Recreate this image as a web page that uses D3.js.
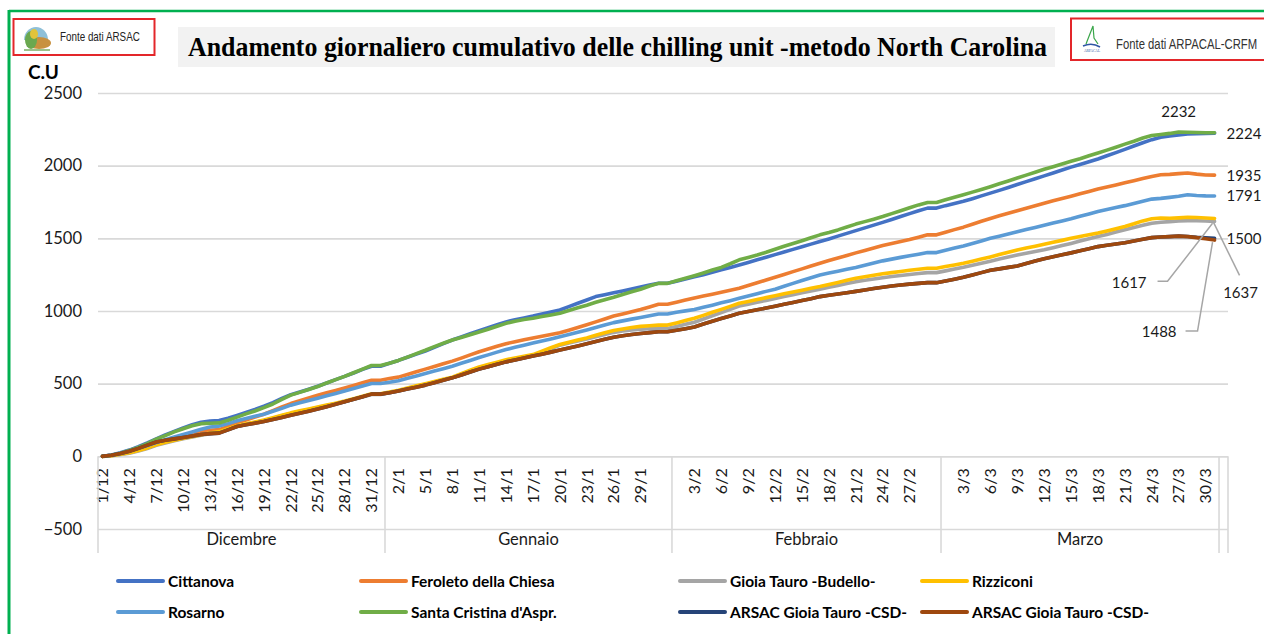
<!DOCTYPE html>
<html>
<head>
<meta charset="utf-8">
<script src="https://cdn.jsdelivr.net/npm/d3@7"></script>
<style>
  body { margin: 0; background: #fff; }
  svg { display: block; font-family: Lato, "Open Sans", sans-serif; }
</style>
</head>
<body>
<div id="chart"></div>
<script>
const width = 1264;
const height = 634;
const margin = { left: 98, right: 36, top: 93, bottom: 105 };

const months = ['Dicembre', 'Gennaio', 'Febbraio', 'Marzo'];
const monthNumbers = [12, 1, 2, 3];
const monthDays = [31, 31, 29, 31];
const yTicks = [-500, 0, 500, 1000, 1500, 2000, 2500];

const seriesNames = ['Cittanova', 'Feroleto della Chiesa', 'Gioia Tauro -Budello-', 'Rizziconi',
  'Rosarno', "Santa Cristina d'Aspr.", 'ARSAC Gioia Tauro -CSD-', 'ARSAC Gioia Tauro -CSD-'];
const colors = ['#4472c4', '#ed7d31', '#a5a5a5', '#ffc000', '#5b9bd5', '#70ad47', '#264478', '#9e480e'];

// valori giornalieri: dic (31) + vuoto, gen (31) + vuoto, feb (29) + vuoto, mar (31)
const cittanova = [
  0, 9, 24, 43, 66, 92, 120, 148, 172, 196, 218, 235, 243, 246, 262, 282, 302, 322, 345, 370, 398, 424, 443, 462, 482, 505, 528, 550, 573, 598, 620, 620,
  640, 660, 682, 703, 725, 750, 775, 800, 822, 843, 865, 885, 905, 925, 940, 952, 965, 980, 993, 1007, 1030, 1053, 1076, 1099, 1112, 1125, 1138, 1152, 1165, 1178, 1191, 1191,
  1205, 1220, 1235, 1250, 1266, 1283, 1300, 1317, 1334, 1352, 1370, 1388, 1406, 1424, 1442, 1460, 1478, 1496, 1515, 1534, 1553, 1572, 1591, 1610, 1630, 1650, 1670, 1690, 1708, 1708,
  1725, 1740, 1755, 1773, 1792, 1811, 1830, 1850, 1870, 1890, 1910, 1930, 1950, 1970, 1990, 2008, 2027, 2046, 2068, 2090, 2112, 2135, 2158, 2179, 2195, 2205, 2212, 2218, 2220, 2222, 2224
];
const feroleto = [
  0, 6, 18, 35, 52, 70, 90, 108, 125, 140, 155, 170, 179, 184, 205, 230, 250, 270, 290, 315, 340, 363, 383, 402, 420, 437, 453, 470, 488, 506, 524, 524,
  535, 545, 563, 582, 600, 618, 637, 655, 676, 698, 720, 738, 757, 775, 789, 802, 815, 827, 838, 850, 868, 886, 905, 925, 945, 965, 980, 995, 1010, 1028, 1046, 1046,
  1060, 1075, 1090, 1103, 1116, 1129, 1142, 1156, 1175, 1194, 1213, 1232, 1251, 1271, 1290, 1310, 1329, 1347, 1364, 1382, 1400, 1417, 1434, 1450, 1464, 1478, 1492, 1508, 1524, 1524,
  1542, 1560, 1577, 1597, 1617, 1637, 1655, 1672, 1690, 1707, 1724, 1741, 1758, 1774, 1790, 1806, 1822, 1839, 1853, 1867, 1882, 1897, 1912, 1926, 1937, 1940, 1945, 1950, 1942, 1936, 1935
];
const budello = [
  0, 4, 12, 22, 36, 54, 76, 92, 107, 121, 133, 145, 156, 166, 186, 206, 220, 233, 246, 262, 279, 295, 309, 322, 336, 349, 362, 376, 392, 409, 426, 426,
  437, 450, 465, 480, 495, 510, 525, 540, 560, 580, 600, 617, 634, 651, 665, 678, 692, 715, 740, 765, 779, 793, 807, 823, 838, 853, 862, 869, 874, 878, 880, 880,
  893, 908, 923, 945, 967, 989, 1011, 1034, 1047, 1060, 1073, 1086, 1099, 1112, 1125, 1138, 1150, 1163, 1176, 1189, 1202, 1211, 1220, 1229, 1237, 1244, 1251, 1258, 1264, 1264,
  1276, 1289, 1301, 1315, 1329, 1343, 1357, 1371, 1385, 1397, 1409, 1421, 1435, 1450, 1465, 1481, 1497, 1512, 1527, 1543, 1559, 1575, 1590, 1604, 1611, 1615, 1620, 1622, 1621, 1619, 1617
];
const rizziconi = [
  0, 5, 14, 25, 40, 58, 80, 96, 111, 125, 137, 149, 160, 170, 190, 210, 224, 237, 250, 266, 283, 299, 313, 326, 340, 353, 366, 380, 396, 413, 430, 430,
  442, 455, 470, 485, 500, 515, 530, 545, 568, 592, 615, 632, 648, 665, 677, 688, 700, 723, 747, 770, 785, 800, 815, 833, 850, 866, 876, 886, 894, 899, 903, 903,
  918, 934, 950, 970, 991, 1011, 1032, 1053, 1066, 1079, 1092, 1105, 1118, 1130, 1143, 1156, 1168, 1182, 1196, 1211, 1225, 1236, 1246, 1256, 1264, 1272, 1280, 1287, 1294, 1294,
  1306, 1317, 1329, 1343, 1357, 1372, 1388, 1404, 1420, 1433, 1446, 1460, 1473, 1486, 1500, 1512, 1524, 1536, 1551, 1566, 1582, 1600, 1620, 1635, 1640, 1638, 1641, 1645, 1643, 1640, 1637
];
const rosarno = [
  0, 8, 22, 38, 56, 75, 95, 115, 133, 150, 168, 186, 202, 208, 225, 245, 260, 275, 290, 310, 330, 352, 368, 384, 400, 417, 433, 450, 467, 484, 501, 501,
  510, 520, 537, 553, 570, 587, 603, 620, 640, 660, 680, 698, 717, 735, 750, 765, 780, 794, 808, 823, 839, 854, 870, 887, 903, 920, 932, 944, 955, 967, 979, 979,
  992, 1001, 1010, 1025, 1040, 1056, 1071, 1087, 1103, 1119, 1135, 1150, 1170, 1190, 1210, 1229, 1248, 1261, 1274, 1287, 1300, 1315, 1330, 1345, 1357, 1369, 1380, 1391, 1402, 1402,
  1418, 1433, 1448, 1465, 1482, 1500, 1515, 1530, 1545, 1560, 1575, 1590, 1605, 1620, 1635, 1652, 1668, 1685, 1698, 1712, 1725, 1740, 1755, 1770, 1775, 1782, 1790, 1800, 1795, 1792, 1791
];
const santaCristina = [
  0, 8, 22, 40, 62, 88, 118, 143, 168, 190, 210, 225, 228, 230, 248, 270, 292, 312, 335, 360, 392, 421, 440, 460, 480, 505, 528, 550, 575, 600, 625, 625,
  640, 660, 683, 707, 730, 755, 778, 800, 818, 836, 855, 875, 895, 915, 930, 941, 950, 962, 973, 985, 1003, 1022, 1040, 1060, 1078, 1095, 1114, 1132, 1150, 1172, 1190, 1190,
  1208, 1225, 1243, 1262, 1282, 1300, 1325, 1352, 1368, 1385, 1404, 1425, 1446, 1465, 1484, 1504, 1524, 1540, 1558, 1578, 1598, 1615, 1632, 1650, 1670, 1690, 1710, 1730, 1747, 1747,
  1765, 1783, 1800, 1818, 1836, 1855, 1875, 1895, 1915, 1935, 1955, 1975, 1993, 2012, 2030, 2048, 2068, 2087, 2107, 2127, 2148, 2168, 2190, 2207, 2215, 2222, 2232, 2230, 2228, 2227, 2226
];
const arsacBlu = [
  0, 8, 20, 35, 55, 77, 99, 110, 120, 130, 140, 150, 156, 160, 182, 205, 217, 228, 240, 254, 268, 283, 297, 311, 325, 341, 358, 375, 393, 410, 428, 428,
  438, 450, 463, 476, 490, 506, 523, 540, 560, 580, 600, 617, 633, 650, 663, 676, 690, 703, 717, 731, 745, 760, 775, 790, 805, 820, 830, 838, 845, 851, 857, 857,
  867, 878, 890, 910, 930, 948, 966, 984, 996, 1008, 1020, 1033, 1046, 1059, 1072, 1085, 1099, 1108, 1117, 1126, 1135, 1145, 1155, 1164, 1172, 1179, 1185, 1190, 1195, 1195,
  1207, 1219, 1232, 1248, 1264, 1280, 1290, 1300, 1310, 1327, 1344, 1360, 1373, 1387, 1400, 1414, 1428, 1443, 1452, 1461, 1470, 1482, 1494, 1505, 1509, 1512, 1515, 1513, 1507, 1503, 1500
];
const arsacMarrone = [
  0, 8, 20, 35, 55, 77, 99, 110, 120, 130, 140, 150, 156, 160, 182, 205, 217, 228, 240, 254, 268, 283, 297, 311, 325, 341, 358, 375, 393, 410, 428, 428,
  438, 450, 463, 476, 490, 506, 523, 540, 560, 580, 600, 617, 633, 650, 663, 676, 690, 703, 717, 731, 745, 760, 775, 790, 805, 820, 830, 838, 845, 851, 857, 857,
  867, 878, 890, 910, 930, 948, 966, 984, 996, 1008, 1020, 1033, 1046, 1059, 1072, 1085, 1099, 1108, 1117, 1126, 1135, 1145, 1155, 1164, 1172, 1179, 1185, 1190, 1195, 1195,
  1207, 1219, 1232, 1248, 1264, 1280, 1290, 1300, 1310, 1327, 1344, 1360, 1373, 1387, 1400, 1414, 1428, 1443, 1452, 1461, 1470, 1482, 1494, 1505, 1509, 1512, 1515, 1512, 1505, 1497, 1488
];
const allSeries = [cittanova, feroleto, budello, rizziconi, rosarno, santaCristina, arsacBlu, arsacMarrone];

// categorie: giorni del mese, una riga vuota a fine mese, e una vuota in coda
const categories = [];
const groups = [];
monthDays.forEach((n, m) => {
  const start = categories.length;
  for (let d = 1; d <= n; d++) categories.push(`${d}/${monthNumbers[m]}`);
  if (m < monthDays.length - 1) categories.push('');
  groups.push({ name: months[m], start: start, end: categories.length });
});
groups.push({ name: '', start: categories.length, end: categories.length + 1 });
categories.push('');

const svg = d3.select('#chart')
  .append('svg')
    .attr('width', width)
    .attr('height', height);

// cornice verde
svg.append('line').attr('x1', 9).attr('x2', width).attr('y1', 11).attr('y2', 11)
  .style('stroke', '#00b050').style('stroke-width', 2.5);
svg.append('line').attr('x1', 9).attr('x2', 9).attr('y1', 10).attr('y2', height)
  .style('stroke', '#00b050').style('stroke-width', 3);

const x = d3.scaleBand()
  .domain(d3.range(categories.length))
  .range([margin.left, width - margin.right]);
const y = d3.scaleLinear()
  .domain([-500, 2500])
  .range([529, margin.top]);
const cx = i => x(i) + x.bandwidth() / 2;

// griglia e asse y
svg.append('g')
  .attr('transform', `translate(${margin.left},0)`)
  .call(d3.axisLeft(y).tickValues(yTicks).tickSize(-(width - margin.right - margin.left)).tickPadding(16).tickFormat(d3.format('d')))
  .call(g => g.select('.domain').remove())
  .call(g => g.selectAll('.tick line').style('stroke', '#d9d9d9').style('stroke-width', 1.6))
  .call(g => g.selectAll('.tick text').style('font-size', '16.5px').style('fill', '#1a1a1a').style('font-family', 'Lato'));

// asse x (etichette giorni ogni 3 categorie)
svg.append('g')
  .attr('transform', `translate(0,${y(0)})`)
  .call(d3.axisBottom(x).tickValues(d3.range(0, categories.length, 3)).tickSize(0).tickFormat(i => categories[i]))
  .call(g => g.select('.domain').remove())
  .call(g => g.selectAll('.tick text')
    .attr('transform', 'rotate(-90)')
    .attr('x', -12)
    .attr('y', 0)
    .attr('dy', '0.36em')
    .style('text-anchor', 'end')
    .style('font-size', '16px')
    .style('fill', '#1a1a1a')
    .style('font-family', 'Lato'));

// separatori dei mesi
const sepX = groups.map(g => x(g.start)).concat([x.range()[1]]);
svg.append('g').selectAll('line')
  .data(sepX)
  .join('line')
    .attr('x1', d => d).attr('x2', d => d)
    .attr('y1', y(0)).attr('y2', 553)
    .style('stroke', '#d9d9d9').style('stroke-width', 1.6);

svg.append('g').selectAll('text')
  .data(groups)
  .join('text')
    .attr('x', g => (x(g.start) + x(g.end - 1) + x.bandwidth()) / 2)
    .attr('y', 545)
    .attr('text-anchor', 'middle')
    .style('font-size', '16.5px')
    .style('fill', '#1a1a1a')
    .text(g => g.name);

// linee
const line = d3.line()
  .defined(d => d != null)
  .x((d, i) => cx(i))
  .y(d => y(d));

allSeries.forEach((s, k) => {
  svg.append('path')
    .attr('d', line(s))
    .style('fill', 'none')
    .style('stroke', colors[k])
    .style('stroke-width', 3.6)
    .style('stroke-linejoin', 'round')
    .style('stroke-linecap', 'round');
});

// etichette dei dati
const last = cittanova.length - 1;
const dataLabels = [
  { s: 5, i: 120, text: '2232', tx: 0, ty: -20, anchor: 'middle' },
  { s: 0, i: last, text: '2224', tx: 12, ty: 0, anchor: 'start' },
  { s: 1, i: last, text: '1935', tx: 12, ty: 0, anchor: 'start' },
  { s: 4, i: last, text: '1791', tx: 12, ty: 0, anchor: 'start' },
  { s: 6, i: last, text: '1500', tx: 12, ty: 0, anchor: 'start' },
  { s: 2, i: last, text: '1617', tx: -68, ty: 61, anchor: 'end', leader: [[-47, 60], [-57, 60]] },
  { s: 3, i: last, text: '1637', tx: 26, ty: 74, anchor: 'middle', leader: [[25, 57]] },
  { s: 7, i: last, text: '1488', tx: -38, ty: 92, anchor: 'end', leader: [[-17, 91], [-29, 91]] }
];
dataLabels.forEach(l => {
  const px = cx(l.i), py = y(allSeries[l.s][l.i]);
  if (l.leader) {
    const pts = [[px - 2, py + 2]].concat(l.leader.map(p => [px + p[0], py + p[1]]));
    svg.append('path')
      .attr('d', d3.line()(pts))
      .style('fill', 'none')
      .style('stroke', '#a6a6a6')
      .style('stroke-width', 1.5);
  }
  svg.append('text')
    .attr('x', px + l.tx)
    .attr('y', py + l.ty)
    .attr('dy', '0.36em')
    .attr('text-anchor', l.anchor)
    .style('font-size', '15px')
    .style('fill', '#1a1a1a')
    .text(l.text);
});

// legenda
const legendCols = [118, 361, 680, 922];
const legendRows = [581, 612];
seriesNames.forEach((name, k) => {
  const lx = legendCols[k % 4], ly = legendRows[Math.floor(k / 4)];
  svg.append('line')
    .attr('x1', lx).attr('x2', lx + 45).attr('y1', ly).attr('y2', ly)
    .style('stroke', colors[k]).style('stroke-width', 4).style('stroke-linecap', 'round');
  svg.append('text')
    .attr('x', lx + 50).attr('y', ly)
    .attr('dy', '0.36em')
    .style('font-size', '15.5px')
    .style('font-weight', 'bold')
    .style('fill', '#000')
    .text(name);
});

// titolo
svg.append('rect')
  .attr('x', 178).attr('y', 27).attr('width', 877).attr('height', 40)
  .style('fill', '#f2f2f2');
svg.append('text')
  .attr('x', 188).attr('y', 56)
  .attr('textLength', 859)
  .attr('lengthAdjust', 'spacingAndGlyphs')
  .style('font-family', '"Liberation Serif", "DejaVu Serif", serif')
  .style('font-weight', 'bold')
  .style('font-size', '27px')
  .style('fill', '#000')
  .text('Andamento giornaliero cumulativo delle chilling unit -metodo North Carolina');

svg.append('text')
  .attr('x', 28).attr('y', 79)
  .style('font-size', '19px')
  .style('font-weight', 'bold')
  .style('fill', '#000')
  .text('C.U');

// riquadro fonte ARSAC
svg.append('rect')
  .attr('x', 13.5).attr('y', 19).attr('width', 141).attr('height', 36)
  .style('fill', '#fff').style('stroke', '#e3262a').style('stroke-width', 2);
const logoA = svg.append('g').attr('transform', 'translate(36,38)');
logoA.append('path').attr('d', 'M-12,2 A12,13 0 0 1 12,2 Z').style('fill', '#8fc0d8');
logoA.append('ellipse').attr('cx', 3).attr('cy', 5).attr('rx', 12).attr('ry', 6).style('fill', '#c8913f');
logoA.append('ellipse').attr('cx', -5).attr('cy', 2).attr('rx', 6).attr('ry', 9).style('fill', '#6aa84f');
logoA.append('ellipse').attr('cx', -2).attr('cy', -4).attr('rx', 4).attr('ry', 5).style('fill', '#e2c33a');
logoA.append('rect').attr('x', -12).attr('y', 11).attr('width', 26).attr('height', 2).style('fill', '#9cc28a');
svg.append('text')
  .attr('transform', 'translate(60,41) scale(0.82,1)')
  .style('font-family', '"Liberation Sans", sans-serif')
  .style('font-size', '12px')
  .style('fill', '#222')
  .text('Fonte dati ARSAC');

// riquadro fonte ARPACAL
svg.append('rect')
  .attr('x', 1071).attr('y', 18.5).attr('width', 200).attr('height', 41.5)
  .style('fill', '#fff').style('stroke', '#e3262a').style('stroke-width', 2);
const logoB = svg.append('g').attr('transform', 'translate(1092,40)');
logoB.append('path').attr('d', 'M-6,4 L1,-14 L2,-2 L6,4').style('fill', 'none').style('stroke', '#3aa64a').style('stroke-width', 1.2);
logoB.append('path').attr('d', 'M-9,6 Q0,2 8,7').style('fill', 'none').style('stroke', '#2f57a4').style('stroke-width', 1.5);
logoB.append('text').attr('x', 0).attr('y', 12).attr('text-anchor', 'middle')
  .style('font-size', '3.5px').style('fill', '#2f57a4').style('font-family', '"Liberation Serif", serif').text('ARPACAL');
svg.append('text')
  .attr('transform', 'translate(1116,49) scale(0.78,1)')
  .style('font-family', '"Liberation Sans", sans-serif')
  .style('font-size', '14.5px')
  .style('fill', '#333')
  .text('Fonte dati ARPACAL-CRFM');
</script>
</body>
</html>
